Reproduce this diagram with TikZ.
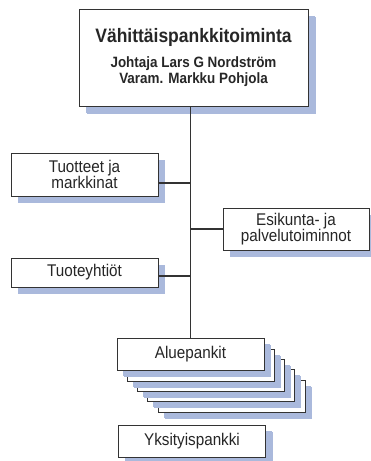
\documentclass[tikz,border=0pt]{standalone}
\usepackage{fontspec}
\setmainfont[FakeStretch=0.9]{Liberation Sans}
\usetikzlibrary{shadows}
\definecolor{shadowblue}{HTML}{AAB9DC}
\definecolor{linegray}{HTML}{333333}
\tikzset{
  box/.style={draw=linegray, line width=0.9bp, fill=white, inner sep=0pt, align=center,
    text=black!85, font=\fontsize{17}{16}\selectfont,
    drop shadow={shadow xshift=7bp, shadow yshift=-7bp, fill=shadowblue, opacity=1}},
  conn/.style={draw=linegray, line width=1.4bp}
}
\begin{document}
\begin{tikzpicture}[x=1bp,y=-1bp]
\useasboundingbox (0,0) rectangle (370,461);
% top
\node[box, minimum width=229bp, minimum height=97bp,
  drop shadow={shadow xshift=8bp, shadow yshift=-8bp, fill=shadowblue, opacity=1}]
  (top) at (193.5,57.5)
  {{\fontsize{19.5}{20}\selectfont\bfseries Vähittäispankkitoiminta}\\[10bp]
   {\fontsize{15}{15}\selectfont\bfseries Johtaja Lars G Nordström}\\
   {\fontsize{15}{15}\selectfont\bfseries Varam. Markku Pohjola}};
% left/right boxes
\node[box, minimum width=147bp, minimum height=43bp] (tuo) at (84.5,174.5) {Tuotteet ja\\markkinat};
\node[box, minimum width=146bp, minimum height=42bp] (esi) at (296,229) {Esikunta- ja\\palvelutoiminnot};
\node[box, minimum width=147bp, minimum height=29bp] (yht) at (84.5,272.5) {Tuoteyhtiöt};
% stack
\tikzset{stack/.style={box, minimum width=147bp, minimum height=32bp,
  drop shadow={shadow xshift=6bp, shadow yshift=-6bp, fill=shadowblue, opacity=1}}}
\node[stack] (a5) at (231.5,396) {};
\node[stack] (a4) at (220.5,385) {};
\node[stack] (a3) at (210.5,375) {};
\node[stack] (a2) at (200.5,365) {};
\node[stack] (a1) at (190.5,354) {Aluepankit};
\node[stack] (yks) at (192,441) {Yksityispankki};
% connectors
\draw[conn] (top.south -| a1.north) -- (a1.north);
\draw[conn] ([yshift=-8.5bp]tuo.east) -- ([yshift=-8.5bp]tuo.east -| a1.north);
\draw[conn] (esi.west) -- (esi.west -| a1.north);
\draw[conn] ([yshift=-3.5bp]yht.east) -- ([yshift=-3.5bp]yht.east -| a1.north);
\end{tikzpicture}
\end{document}
